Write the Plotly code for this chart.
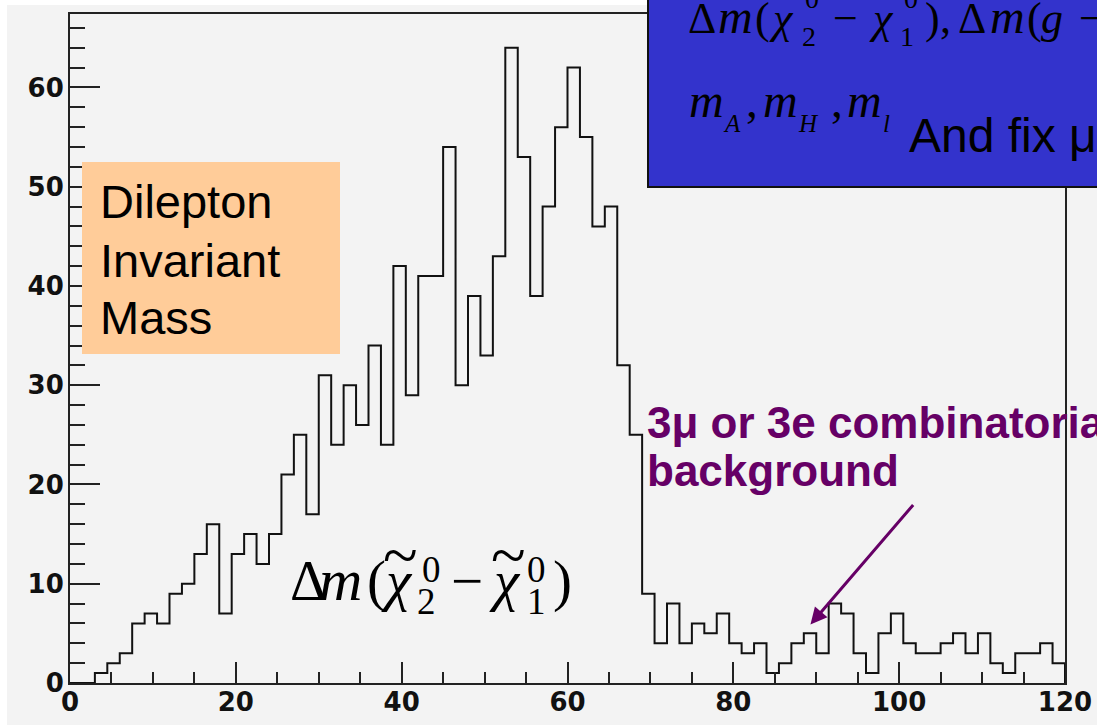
import numpy as np
import plotly.graph_objects as go

# Dilepton invariant mass histogram: 80 bins of 1.5 over [0, 120]
bin_lo = 0.0
bin_width = 1.5
counts = [0, 0, 1, 2, 3, 6, 7, 6, 9, 10,
          13, 16, 7, 13, 15, 12, 15, 21, 25, 17,
          31, 24, 30, 26, 34, 24, 42, 29, 41, 41,
          54, 30, 39, 33, 43, 64, 53, 39, 48, 56,
          62, 55, 46, 48, 32, 25, 9, 4, 8, 4,
          6, 5, 7, 4, 3, 4, 1, 2, 4, 5,
          3, 8, 7, 3, 1, 5, 7, 4, 3, 3,
          4, 5, 3, 5, 2, 1, 3, 3, 4, 2]
x_ticks = [0, 20, 40, 60, 80, 100, 120]
y_ticks = [0, 10, 20, 30, 40, 50, 60]

W, H = 1097, 725
L, R, T, B = 70, 32, 14, 42
PW, PH = W - L - R, H - T - B
x_range = [0, 120]
y_range = [0, 67.4]


def px(x):
    return (x - L) / PW


def py(y):
    return (H - B - y) / PH


edges = bin_lo + bin_width * np.arange(len(counts) + 1)
xs = np.r_[edges, edges[-1]]
ys = np.r_[counts, counts[-1], 0]

fig = go.Figure()
fig.add_trace(go.Scatter(x=xs, y=ys, mode="lines", line_shape="hv",
                         line=dict(color="#111111", width=2),
                         hoverinfo="skip", showlegend=False))

bg = "#f3f3f3"
frame = "#222222"
tickfont = dict(family="DejaVu Sans", size=26, color="#111111", weight="bold")

fig.update_layout(
    width=W, height=H, autosize=False,
    margin=dict(l=L, r=R, t=T, b=B, pad=0),
    paper_bgcolor=bg, plot_bgcolor=bg,
    showlegend=False,
    xaxis=dict(range=x_range, tickvals=x_ticks, ticks="inside", ticklen=21,
               tickwidth=2, tickcolor=frame, showgrid=False, zeroline=False,
               showline=True, linecolor=frame, linewidth=2, mirror=True,
               tickfont=tickfont, ticklabelstandoff=-5, automargin=False,
               minor=dict(dtick=5, tick0=0, ticks="inside", ticklen=11,
                          tickwidth=2, tickcolor=frame, showgrid=False)),
    yaxis=dict(range=y_range, tickvals=y_ticks, ticks="inside", ticklen=30,
               tickwidth=2, tickcolor=frame, showgrid=False, zeroline=False,
               showline=True, linecolor=frame, linewidth=2, mirror=True,
               tickfont=tickfont, ticklabelstandoff=-1, automargin=False,
               minor=dict(dtick=2, tick0=0, ticks="inside", ticklen=15,
                          tickwidth=2, tickcolor=frame, showgrid=False)),
)

# white page edge on the left and top
fig.add_shape(type="rect", xref="paper", yref="paper", layer="below",
              x0=px(-5), x1=px(7), y0=py(H + 5), y1=py(-5),
              fillcolor="white", line_width=0)
fig.add_shape(type="rect", xref="paper", yref="paper", layer="below",
              x0=px(-5), x1=px(W + 5), y0=py(5), y1=py(-5),
              fillcolor="white", line_width=0)

# orange label box
fig.add_shape(type="rect", xref="paper", yref="paper", layer="above",
              x0=px(82), x1=px(340), y0=py(354), y1=py(162),
              fillcolor="#FFCC99", line_width=0)
# blue box in the upper right
fig.add_shape(type="rect", xref="paper", yref="paper", layer="above",
              x0=px(648), x1=px(W + 20), y0=py(187), y1=py(-20),
              fillcolor="#3333CC", line=dict(color="#111111", width=2))


def place(text, x_left, baseline, size, family="Liberation Sans",
          color="black", weight="normal", k=0.34):
    fig.add_annotation(text=text, xref="paper", yref="paper",
                       x=px(x_left), y=py(baseline - k * size),
                       xanchor="left", yanchor="middle", showarrow=False,
                       borderpad=0, font=dict(family=family, size=size,
                                              color=color, weight=weight))


SERIF = "Liberation Serif"

# box label
place("Dilepton", 99, 217, 47)
place("Invariant", 99, 276, 47)
place("Mass", 99, 333, 47)

# mass difference label under the peak
place("Δ", 289, 600, 57, SERIF)
place("<i>m</i>", 318, 600, 60, SERIF)
place("(", 366, 600, 57, SERIF)
place("<i>χ</i>", 380, 600, 57, SERIF)
place("~", 382, 577, 64, SERIF)
place("2", 416, 614, 37, SERIF)
place("0", 421, 582, 37, SERIF)
place("−", 450, 600, 57, SERIF)
place("<i>χ</i>", 488, 600, 57, SERIF)
place("~", 490, 577, 64, SERIF)
place("1", 526, 614, 37, SERIF)
place("0", 526, 582, 37, SERIF)
place(")", 552, 600, 57, SERIF)

# parameter list in the blue box
place("Δ", 687, 33, 44, SERIF)
place("<i>m</i>", 717, 33, 48, SERIF)
place("(", 754, 33, 44, SERIF)
place("<i>χ</i>", 768, 33, 44, SERIF)
place("~", 768, 4, 52, SERIF)
place("2", 801, 46, 28, SERIF)
place("0", 804, 8, 28, SERIF)
place("−", 832, 33, 44, SERIF)
place("<i>χ</i>", 868, 33, 44, SERIF)
place("~", 868, 4, 52, SERIF)
place("1", 899, 46, 28, SERIF)
place("0", 903, 8, 28, SERIF)
place(")", 924, 33, 44, SERIF)
place(",", 939, 33, 44, SERIF)
place("Δ", 957, 33, 44, SERIF)
place("<i>m</i>", 989, 33, 48, SERIF)
place("(", 1026, 33, 44, SERIF)
place("<i>g</i>", 1040, 33, 44, SERIF)
place("−", 1078, 33, 44, SERIF)

place("<i>m</i>", 688, 117, 48, SERIF)
place("<i>A</i>", 722, 132, 25, SERIF)
place(",", 745, 117, 47, SERIF)
place("<i>m</i>", 762, 117, 48, SERIF)
place("<i>H</i>", 797, 132, 25, SERIF)
place(",", 830, 117, 47, SERIF)
place("<i>m</i>", 846, 117, 48, SERIF)
place("<i>l</i>", 882, 132, 25, SERIF)
place("And fix μ", 908, 152, 48)

# background annotation
purple = "#660066"
place("3μ or 3e combinatorial", 646, 437, 44, color=purple, weight="bold")
place("background", 646, 485, 44, color=purple, weight="bold")

fig.add_annotation(x=89.3, y=5.9, xref="x", yref="y", text="",
                   showarrow=True, ax=104, ay=-121, axref="pixel", ayref="pixel",
                   arrowhead=2, arrowsize=1.1, arrowwidth=3, arrowcolor=purple,
                   standoff=0)

fig.write_html("out.html")
